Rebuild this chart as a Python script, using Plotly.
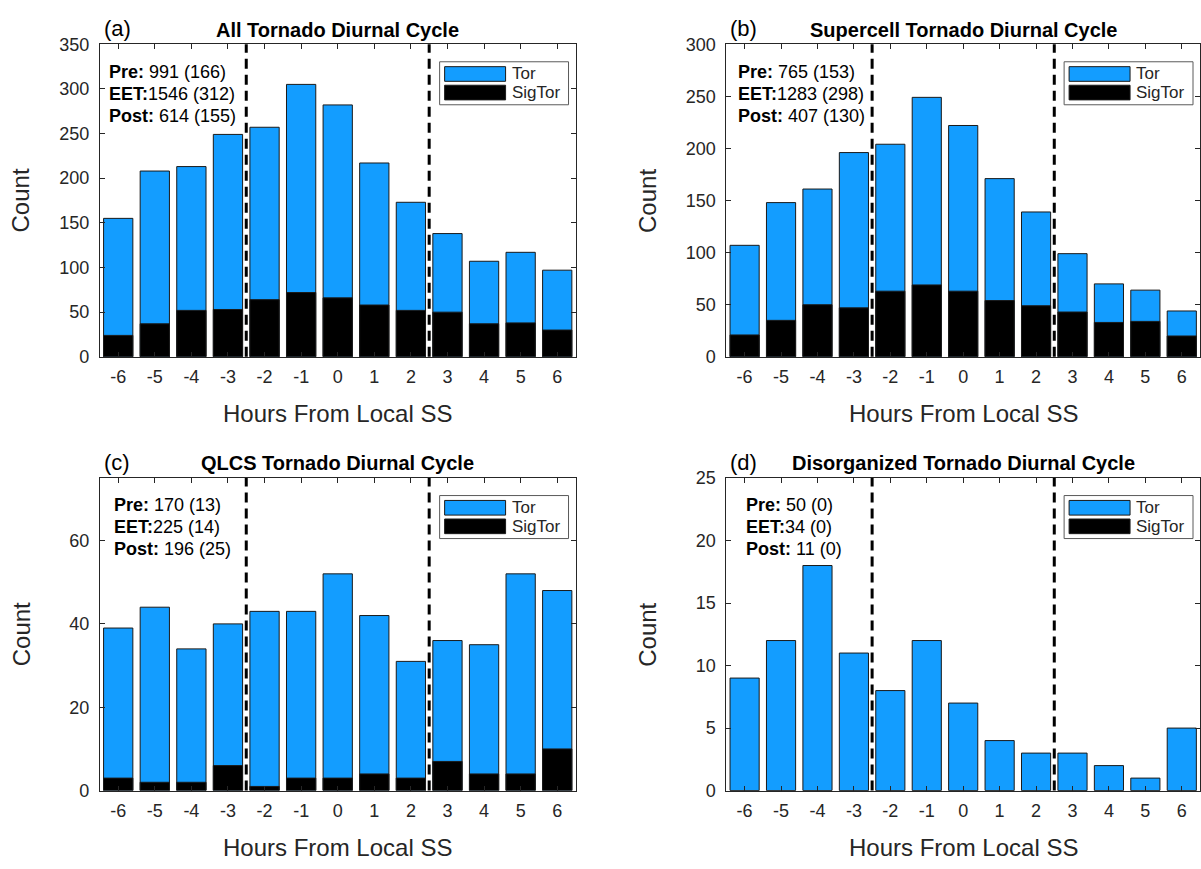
import plotly.graph_objects as go

W, H = 1201, 869

hours = [-6, -5, -4, -3, -2, -1, 0, 1, 2, 3, 4, 5, 6]
hour_labels = ["-6", "-5", "-4", "-3", "-2", "-1", "0", "1", "2", "3", "4", "5", "6"]
boundaries = [-2.5, 2.5]

tor_all = [155, 208, 213, 249, 257, 305, 282, 217, 173, 138, 107, 117, 97]
sig_all = [24, 37, 52, 53, 64, 72, 66, 58, 52, 50, 37, 38, 30]

tor_sup = [107, 148, 161, 196, 204, 249, 222, 171, 139, 99, 70, 64, 44]
sig_sup = [21, 35, 50, 47, 63, 69, 63, 54, 49, 43, 33, 34, 20]

tor_qlcs = [39, 44, 34, 40, 43, 43, 52, 42, 31, 36, 35, 52, 48]
sig_qlcs = [3, 2, 2, 6, 1, 3, 3, 4, 3, 7, 4, 4, 10]

tor_dis = [9, 12, 18, 11, 8, 12, 7, 4, 3, 3, 2, 1, 5]
sig_dis = [0, 0, 0, 0, 0, 0, 0, 0, 0, 0, 0, 0, 0]

count_labels = ["Pre:", "EET:", "Post:"]
counts_all = ["991 (166)", "1546 (312)", "614 (155)"]
counts_sup = ["765 (153)", "1283 (298)", "407 (130)"]
counts_qlcs = ["170 (13)", "225 (14)", "196 (25)"]
counts_dis = ["50 (0)", "34 (0)", "11 (0)"]

titles = ["All Tornado Diurnal Cycle", "Supercell Tornado Diurnal Cycle",
          "QLCS Tornado Diurnal Cycle", "Disorganized Tornado Diurnal Cycle"]
letters = ["(a)", "(b)", "(c)", "(d)"]

BLUE = "#139dff"
TXT = "#262626"
FONT = "Liberation Sans, Arial"

panels = [
    dict(tor=tor_all, sig=sig_all, counts=counts_all, yr=[0, 350], yt=list(range(0, 351, 50)),
         box=(100, 576, 35, 355), tx=7),
    dict(tor=tor_sup, sig=sig_sup, counts=counts_sup, yr=[0, 300], yt=list(range(0, 301, 50)),
         box=(727, 1201, 35, 355), tx=10),
    dict(tor=tor_qlcs, sig=sig_qlcs, counts=counts_qlcs, yr=[0, 75], yt=[0, 20, 40, 60],
         box=(100, 576, 479, 799), tx=12),
    dict(tor=tor_dis, sig=sig_dis, counts=counts_dis, yr=[0, 25], yt=list(range(0, 26, 5)),
         box=(727, 1201, 479, 799), tx=18),
]


def px(x):
    return x / W


def py(y):
    return 1 - y / H


fig = go.Figure()
shapes = []
annotations = []

for i, p in enumerate(panels):
    n = "" if i == 0 else str(i + 1)
    xa, ya = "x" + n, "y" + n
    x0, x1, y0, y1 = p["box"]
    fig.add_trace(go.Bar(x=hours, y=p["tor"], name="Tor",
                         marker=dict(color=BLUE, line=dict(color="#1a1a1a", width=1)),
                         opacity=1, xaxis=xa, yaxis=ya, showlegend=False))
    fig.add_trace(go.Bar(x=hours, y=p["sig"], name="SigTor",
                         marker=dict(color="black", line=dict(color="#1a1a1a", width=1)),
                         opacity=1, xaxis=xa, yaxis=ya, showlegend=False))
    axcommon = dict(showline=True, mirror="ticks", ticks="inside", ticklen=5, tickwidth=1,
                    tickcolor=TXT, linecolor=TXT, linewidth=1, showgrid=False, zeroline=False,
                    tickfont=dict(family=FONT, size=18, color=TXT))
    fig.update_layout({
        "xaxis" + n: dict(axcommon, domain=[px(x0), px(x1)], range=[-6.5, 6.5], tickvals=hours,
                          ticktext=hour_labels, anchor=ya, ticklabelstandoff=4),
        "yaxis" + n: dict(axcommon, domain=[py(y1), py(y0)], range=p["yr"], tickvals=p["yt"],
                          ticktext=[str(v) for v in p["yt"]], anchor=xa, ticklabelstandoff=6),
    })
    for b in boundaries:
        shapes.append(dict(type="line", xref=xa, yref=ya + " domain", x0=b, x1=b, y0=0, y1=1,
                           line=dict(color="black", width=3, dash="10px,6px"), layer="above"))
    cx = (x0 + x1) / 2
    annotations.append(dict(xref="paper", yref="paper", x=px(cx), y=py(y0 - 15), text="<b>" + titles[i] + "</b>",
                            showarrow=False, xanchor="center", yanchor="middle",
                            font=dict(family=FONT, size=20, color="black")))
    annotations.append(dict(xref="paper", yref="paper", x=px(x0 + 2), y=py(y0 - 16), text=letters[i],
                            showarrow=False, xanchor="left", yanchor="middle",
                            font=dict(family=FONT, size=22, color="black")))
    annotations.append(dict(xref="paper", yref="paper", x=px(cx), y=py(y1 + 58), text="Hours From Local SS",
                            showarrow=False, xanchor="center", yanchor="middle",
                            font=dict(family=FONT, size=24, color=TXT)))
    annotations.append(dict(xref="paper", yref="paper", x=px(x0 - 79), y=py((y0 + y1) / 2), text="Count",
                            showarrow=False, xanchor="center", yanchor="middle", textangle=-90,
                            font=dict(family=FONT, size=24, color=TXT)))
    for j in range(3):
        annotations.append(dict(xref="paper", yref="paper", x=px(x0 + p["tx"]), y=py(y0 + 28 + j * 22.5),
                                text="<b>" + count_labels[j] + "</b>" + ("" if j == 1 else " ") + p["counts"][j],
                                showarrow=False, xanchor="left", yanchor="middle",
                                font=dict(family=FONT, size=18, color="black")))
    bx1 = x1 - 7
    bx0 = bx1 - 129
    by0 = y0 + 18
    by1 = y0 + 62
    shapes.append(dict(type="rect", xref="paper", yref="paper", x0=px(bx0), x1=px(bx1), y0=py(by1), y1=py(by0),
                       line=dict(color="#5a5a5a", width=1), fillcolor="white", layer="above"))
    for k, (lab, col) in enumerate([("Tor", BLUE), ("SigTor", "black")]):
        sy0 = y0 + 23 + k * 19
        sy1 = sy0 + 15
        shapes.append(dict(type="rect", xref="paper", yref="paper", x0=px(bx0 + 5), x1=px(bx0 + 66),
                           y0=py(sy1), y1=py(sy0), line=dict(color="#1a1a1a", width=1), fillcolor=col,
                           layer="above"))
        annotations.append(dict(xref="paper", yref="paper", x=px(bx0 + 70), y=py((sy0 + sy1) / 2), text=lab,
                                showarrow=False, xanchor="left", yanchor="middle",
                                font=dict(family=FONT, size=17, color=TXT)))

fig.update_layout(
    width=W, height=H, margin=dict(l=0, r=0, t=0, b=0, pad=0),
    barmode="overlay", bargap=0.2,
    plot_bgcolor="white", paper_bgcolor="white",
    shapes=shapes, annotations=annotations, showlegend=False,
)

fig.write_html("out.html")
